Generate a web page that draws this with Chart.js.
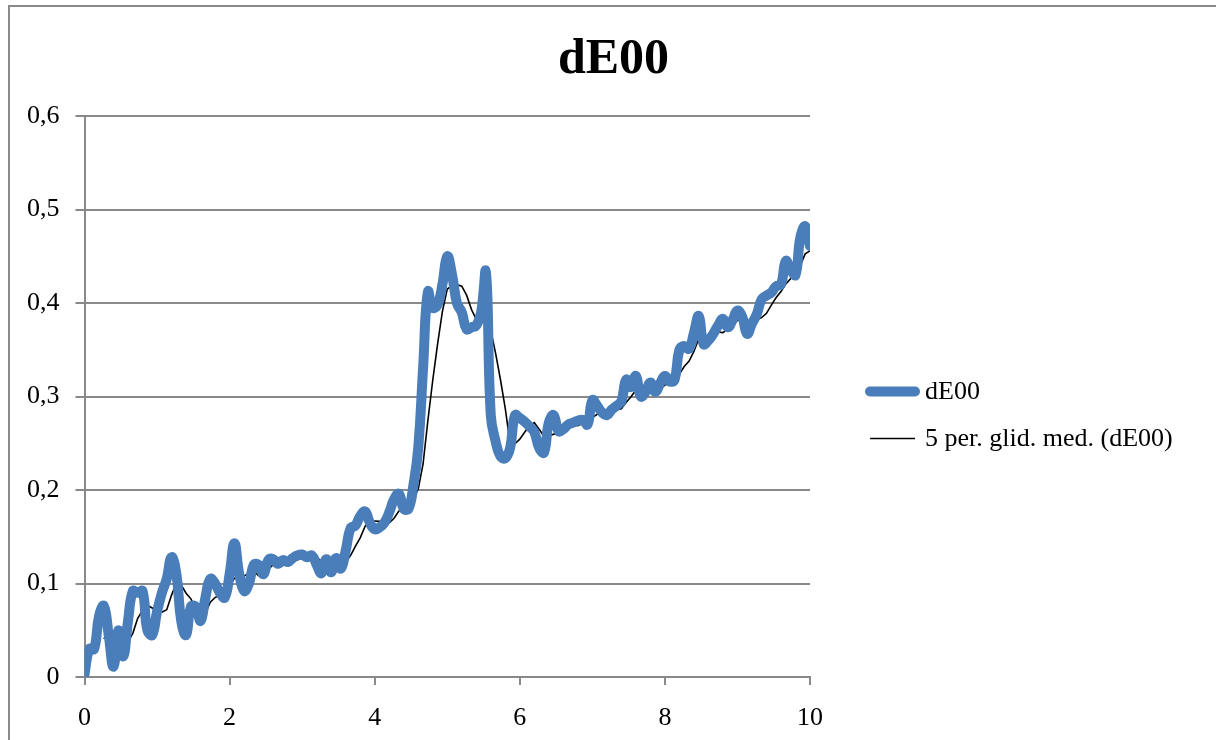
<!DOCTYPE html>
<html>
<head>
<meta charset="utf-8">
<script src="https://cdn.jsdelivr.net/npm/chart.js@4.4.1/dist/chart.umd.min.js"></script>
<style>
    html, body { margin: 0; padding: 0; background: #fff; overflow: hidden; }
    .wrap { position: relative; width: 1216px; height: 740px; }
    .frame { position: absolute; left: 8px; top: 5px; right: -10px; bottom: -10px;
             border-left: 2px solid #898989; border-top: 2px solid #898989; pointer-events: none; }
</style>
</head>
<body>
<div class="wrap">
    <canvas id="myChart" width="1216" height="740"></canvas>
    <div class="frame"></div>
</div>
<script>
//data, one sample every 1/15 on the x axis (0..10)
const xStep = 1 / 15;
const seriesName = "dE00";
const trendName = "5 per. glid. med. (dE00)";
const maPeriod = 5;

const dE00 = [
    0.003, 0.030, 0.030, 0.065, 0.076, 0.045, 0.011, 0.050, 0.022, 0.060,
    0.092, 0.090, 0.092, 0.050, 0.045, 0.070, 0.090, 0.105, 0.128, 0.110,
    0.060, 0.045, 0.075, 0.075, 0.060, 0.085, 0.105, 0.100, 0.090, 0.085,
    0.110, 0.143, 0.110, 0.092, 0.100, 0.120, 0.120, 0.110, 0.125, 0.126,
    0.121, 0.125, 0.123, 0.127, 0.130, 0.131, 0.128, 0.130, 0.120, 0.111,
    0.126, 0.112, 0.127, 0.116, 0.135, 0.159, 0.162, 0.172, 0.177, 0.165,
    0.158, 0.160, 0.165, 0.176, 0.190, 0.196, 0.180, 0.180, 0.205, 0.245,
    0.330, 0.412, 0.395, 0.398, 0.420, 0.450, 0.430, 0.400, 0.390, 0.372,
    0.374, 0.376, 0.390, 0.433, 0.280, 0.252, 0.236, 0.234, 0.245, 0.280,
    0.277, 0.273, 0.268, 0.262, 0.245, 0.240, 0.272, 0.280, 0.263, 0.265,
    0.270, 0.272, 0.274, 0.275, 0.270, 0.296, 0.290, 0.283, 0.280, 0.286,
    0.290, 0.295, 0.318, 0.310, 0.322, 0.300, 0.305, 0.315, 0.305, 0.314,
    0.322, 0.316, 0.318, 0.350, 0.354, 0.351, 0.368, 0.386, 0.356, 0.360,
    0.367, 0.376, 0.383, 0.374, 0.382, 0.392, 0.385, 0.367, 0.378, 0.388,
    0.404, 0.408, 0.411, 0.418, 0.420, 0.445, 0.436, 0.430, 0.470, 0.482,
    0.461
];

const yTicks = [0, 0.1, 0.2, 0.3, 0.4, 0.5, 0.6];
const xTicks = [0, 2, 4, 6, 8, 10];

//build points for the linear x axis
const seriesPoints = dE00.map((v, i) => ({ x: i * xStep, y: v }));

//moving average like the spreadsheet trendline (first full window only)
const trendPoints = [];
for (let i = maPeriod - 1; i < dE00.length; i++) {
    let sum = 0;
    for (let k = i - maPeriod + 1; k <= i; k++) sum += dE00[k];
    trendPoints.push({ x: i * xStep, y: sum / maPeriod });
}

const FONT = "'Liberation Serif', 'Times New Roman', serif";
const GRID = '#898989';
const LEGEND_SPACE = 406; // room kept right of the plot for the legend

//legend drawn to the right of the plot, like the spreadsheet one
const sideLegend = {
    id: 'sideLegend',
    afterDraw(chart) {
        const c = chart.ctx;
        const area = chart.chartArea;
        const lineX = area.right + 60;
        const lineW = 45;
        const textX = area.right + 115;
        let y = (area.top + area.bottom) / 2 - 5;
        c.save();
        c.font = "26px " + FONT;
        c.fillStyle = '#000';
        c.textBaseline = 'middle';
        chart.data.datasets.forEach(ds => {
            c.beginPath();
            c.strokeStyle = ds.borderColor;
            c.lineWidth = ds.borderWidth;
            c.lineCap = ds.borderCapStyle || 'butt';
            c.moveTo(lineX, y);
            c.lineTo(lineX + lineW, y);
            c.stroke();
            c.fillText(ds.label, textX, y + 1);
            y += 47;
        });
        c.restore();
    }
};

var ctx = document.getElementById('myChart');
var myChart = new Chart(ctx, {
    type: 'line',
    data: {
        datasets: [{
            label: seriesName,
            data: seriesPoints,
            borderColor: '#4a7ebb',
            backgroundColor: '#4a7ebb',
            borderWidth: 10,
            borderCapStyle: 'round',
            borderJoinStyle: 'round',
            tension: 0.45,
            pointRadius: 0,
            fill: false
        }, {
            label: trendName,
            data: trendPoints,
            borderColor: '#000000',
            backgroundColor: '#000000',
            borderWidth: 1.6,
            borderCapStyle: 'butt',
            tension: 0,
            pointRadius: 0,
            fill: false
        }]
    },
    options: {
        responsive: false,
        animation: false,
        layout: {
            padding: { left: 11, right: 0, top: 0, bottom: 0 }
        },
        plugins: {
            title: {
                display: true,
                text: "dE00",
                color: '#000',
                font: { family: FONT, size: 50, weight: 'bold' },
                padding: { top: 30, bottom: 26 }
            },
            legend: { display: false },
            tooltip: { enabled: false }
        },
        scales: {
            x: {
                type: 'linear',
                min: 0,
                max: 10,
                afterBuildTicks: (axis) => { axis.ticks = xTicks.map(v => ({ value: v })); },
                afterFit: (axis) => { axis.height = 63; },
                ticks: {
                    color: '#000',
                    font: { family: FONT, size: 26 },
                    padding: 18,
                    maxRotation: 0
                },
                grid: {
                    drawOnChartArea: false,
                    drawTicks: true,
                    tickLength: 8,
                    color: GRID,
                    lineWidth: 2
                },
                border: { color: GRID, width: 2 }
            },
            y: {
                min: 0,
                max: 0.6,
                afterBuildTicks: (axis) => { axis.ticks = yTicks.map(v => ({ value: v })); },
                ticks: {
                    color: '#000',
                    font: { family: FONT, size: 26 },
                    padding: 16,
                    callback: (value) => {
                        if (value === 0) return '0';
                        return value.toFixed(1).replace('.', ',');
                    }
                },
                grid: {
                    drawTicks: true,
                    tickLength: 9,
                    color: GRID,
                    lineWidth: 2
                },
                border: { color: GRID, width: 2 }
            },
            //empty right axis that only reserves the legend room, so the title stays centred on the page
            legendRoom: {
                position: 'right',
                min: 0,
                max: 1,
                ticks: { display: false },
                grid: { display: false, drawTicks: false },
                border: { display: false },
                afterFit: (axis) => { axis.width = LEGEND_SPACE; }
            }
        }
    },
    plugins: [sideLegend]
});
</script>
</body>
</html>
